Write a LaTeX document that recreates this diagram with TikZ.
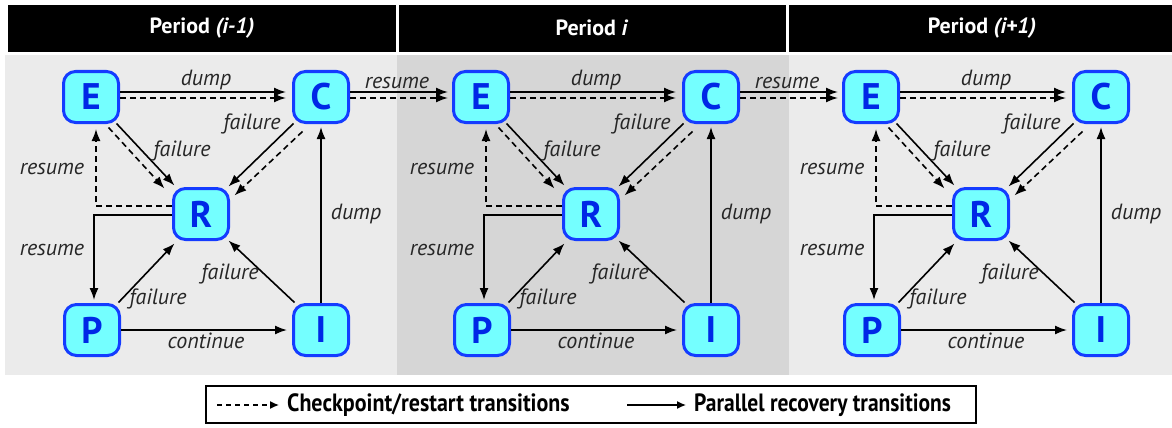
\documentclass[tikz,border=0pt]{standalone}
\usepackage{fontspec}
\setmainfont{PT Sans}
\usetikzlibrary{arrows.meta}

\definecolor{statefill}{RGB}{116,255,255}
\definecolor{stateline}{RGB}{20,60,255}
\definecolor{stateletter}{RGB}{0,40,230}
\definecolor{panlight}{RGB}{235,235,235}
\definecolor{pandark}{RGB}{214,214,214}

\tikzset{
  statebox/.style={draw=stateline, fill=statefill, line width=3pt, rounded corners=12pt,
    minimum width=55pt, minimum height=51pt, inner sep=0pt, text=stateletter,
    font=\fontsize{37}{37}\selectfont\bfseries},
  trans/.style={line width=1.6pt, -{Latex[length=12pt,width=9pt]}},
  ckpt/.style={trans, dash pattern=on 6pt off 4pt},
  lbl/.style={font=\fontsize{22}{22}\selectfont\itshape, text=black!85, inner sep=0pt},
  header/.style={text=white, font=\fontsize{22}{22}\selectfont\bfseries},
  legtext/.style={font=\fontsize{25}{25}\selectfont\bfseries, anchor=west, inner sep=0pt}
}

\begin{document}
\begin{tikzpicture}[x=1pt,y=-1pt]
\useasboundingbox (0,0) rectangle (1172,428);
% panels
\fill[panlight] (5,55) rectangle (397,375);
\fill[pandark] (397,55) rectangle (789,375);
\fill[panlight] (789,55) rectangle (1172,375);
% header bars
\fill (8,5) rectangle (396,52);
\fill (399,5) rectangle (786,52);
\fill (789,5) rectangle (1172,52);
\node[header] (h1) at (202,28) {Period \textit{(i-1)}};
\node[header] (h2) at (592,28) {Period \textit{i}};
\node[header] (h3) at (982,28) {Period \textit{(i+1)}};

\foreach \p/\ox in {1/0, 2/390, 3/780} {
  \node[statebox] (E\p) at (91+\ox,97) {E};
  \node[statebox] (C\p) at (321+\ox,97) {C};
  \node[statebox] (R\p) at (201+\ox,214) {R};
  \node[statebox] (P\p) at (92+\ox,330) {P};
  \node[statebox] (I\p) at (321+\ox,330) {I};
  % E to C
  \draw[trans] ([shift={(0,-5)}]E\p.east) -- ([shift={(-6,-5)}]C\p.west);
  \draw[ckpt] ([shift={(0,1)}]E\p.east) -- ([shift={(-6,1)}]C\p.west);
  \node[lbl] (dEC\p) at (206+\ox,80) {dump};
  % E to R
  \draw[trans] ([shift={(-3.5,-0.5)}]E\p.south east) -- ([shift={(2.5,-1.5)}]R\p.north west);
  \draw[ckpt] ([shift={(-11.5,3.5)}]E\p.south east) -- ([shift={(-7.5,1.5)}]R\p.north west);
  \node[lbl] (fER\p) at (182+\ox,151) {failure};
  % C to R
  \draw[trans] ([shift={(1.5,-0.5)}]C\p.south west) -- ([shift={(-1.5,-0.5)}]R\p.north east);
  \draw[ckpt] ([shift={(10.5,7.5)}]C\p.south west) -- ([shift={(4.5,8.5)}]R\p.north east);
  \node[lbl] (fCR\p) at (252+\ox,124) {failure};
  % R back to E and on to P
  \draw[ckpt] ([yshift=8pt]R\p.west) -| ([shift={(5,5)}]E\p.south);
  \node[lbl] (rRE\p) at (52+\ox,169) {resume};
  \draw[trans] ([yshift=-1pt]R\p.west) -| ([shift={(2,-3)}]P\p.north);
  \node[lbl] (rRP\p) at (52+\ox,250) {resume};
  % P and I to R
  \draw[trans] ([shift={(-2.5,-0.5)}]P\p.north east) -- ([shift={(2.5,2.5)}]R\p.south west);
  \node[lbl] (fPR\p) at (158+\ox,299) {failure};
  \draw[trans] ([shift={(2.5,-0.5)}]I\p.north west) -- ([shift={(-1.5,-0.5)}]R\p.south east);
  \node[lbl] (fIR\p) at (230+\ox,274) {failure};
  % I to C, P to I
  \draw[trans] (I\p.north) -- ([yshift=-3pt]C\p.south);
  \node[lbl] (dIC\p) at (356+\ox,214) {dump};
  \draw[trans] (P\p.east) -- ([xshift=-5pt]I\p.west);
  \node[lbl] (cPI\p) at (206+\ox,341) {continue};
}

% between periods
\foreach \a/\b/\ox in {1/2/0, 2/3/390} {
  \draw[trans] ([shift={(0,-5)}]C\a.east) -- ([shift={(-4,-5)}]E\b.west);
  \draw[ckpt] ([shift={(0,1)}]C\a.east) -- ([shift={(-4,1)}]E\b.west);
  \node[lbl] (rCE\a) at (397+\ox,83) {resume};
}

% legend
\draw[line width=2pt] (206,386) rectangle (976,423);
\coordinate (ck0) at (217,405);
\coordinate (ck1) at (279,405);
\coordinate (pr0) at (627,405);
\coordinate (pr1) at (686,405);
\draw[line width=1.3pt, dash pattern=on 5pt off 4pt, -{Latex[length=9pt,width=8pt]}] (ck0) -- (ck1);
\draw[line width=1.3pt, -{Latex[length=9pt,width=8pt]}] (pr0) -- (pr1);
\node[legtext] (ckt) at (287,405) {\scalebox{0.88}[1]{Checkpoint/restart transitions}};
\node[legtext] (prt) at (694,405) {\scalebox{0.86}[1]{Parallel recovery transitions}};
\end{tikzpicture}
\end{document}
